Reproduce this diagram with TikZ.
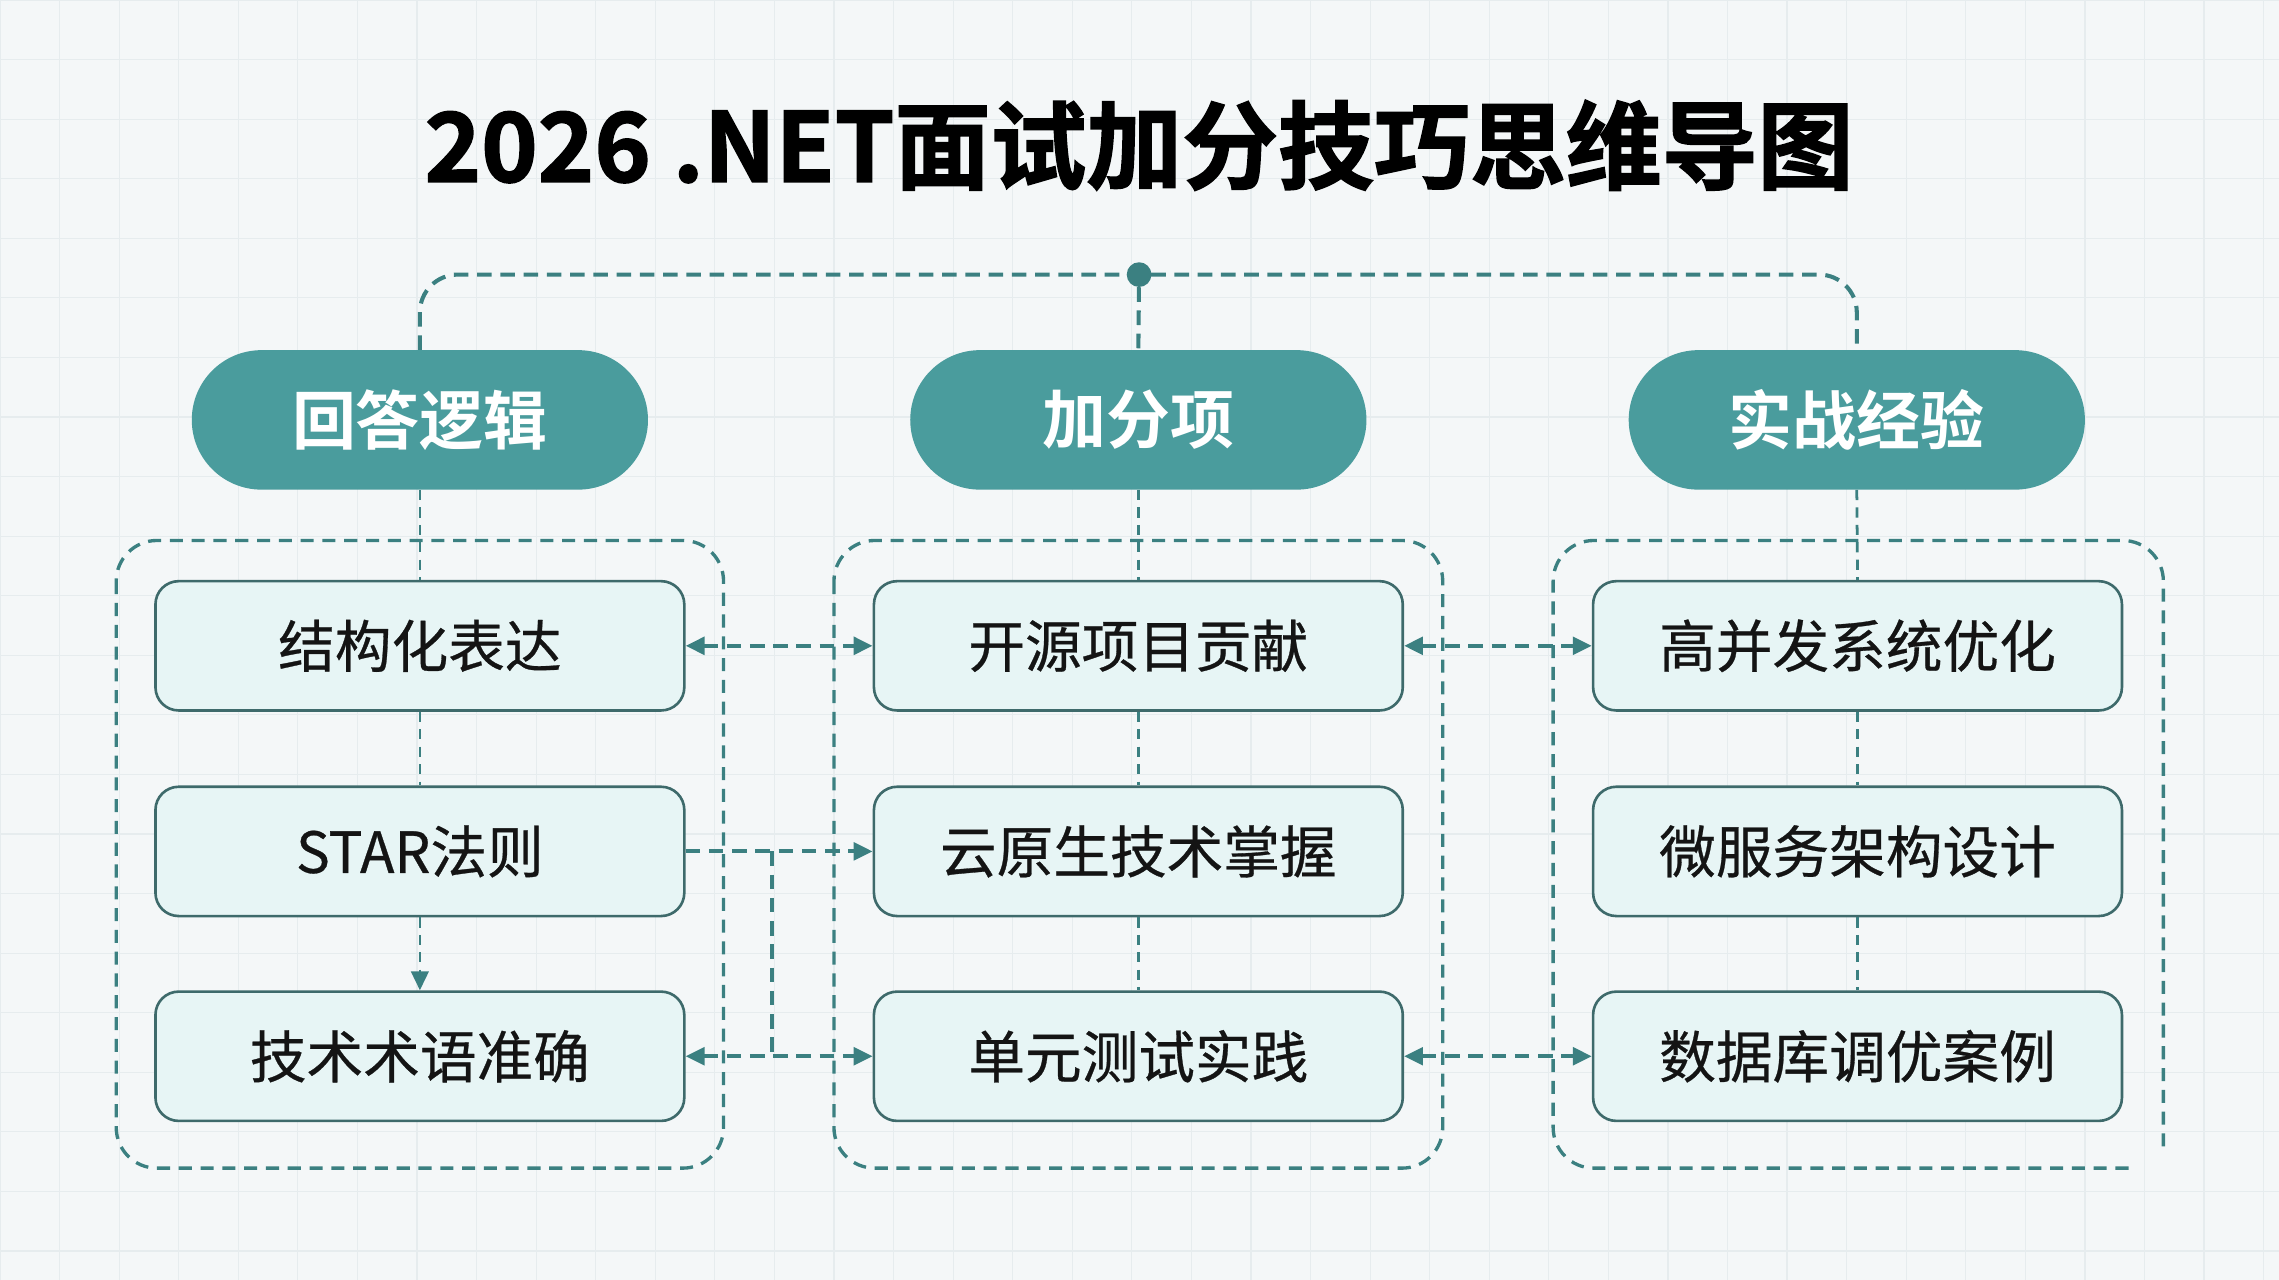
\documentclass[tikz,border=0pt]{standalone}
\usepackage{fontspec}
\setmainfont{Noto Sans CJK SC}[BoldFont=* Bold]
\newfontfamily\titlefont{Noto Sans CJK SC}[UprightFont=* Bold, FakeBold=1.6]
\newfontfamily\itemfont{Noto Sans CJK SC}[FakeBold=0.5]
\usetikzlibrary{arrows.meta,calc}
\definecolor{bgc}{HTML}{F4F7F8}
\definecolor{gridc}{HTML}{E6ECEE}
\definecolor{pillc}{HTML}{4A9C9D}
\definecolor{linec}{HTML}{3B8081}
\definecolor{boxfill}{HTML}{E7F5F5}
\definecolor{boxline}{HTML}{3E6A6B}
\definecolor{textc}{HTML}{141414}
\tikzset{
  pill/.style={fill=pillc, rounded corners=48pt, minimum width=314pt, minimum height=96pt,
    text=white, font=\fontsize{44}{44}\selectfont\bfseries, inner sep=0pt},
  item/.style={draw=boxline, line width=1.8pt, fill=boxfill, rounded corners=16pt,
    minimum width=364pt, minimum height=89pt, inner sep=0pt,
    font=\fontsize{39}{39}\itemfont, text=textc},
  conn/.style={draw=linec, line width=2.8pt, dash pattern=on 10pt off 6pt},
  vconn/.style={draw=linec, line width=1.9pt, dash pattern=on 7pt off 5pt},
  grp/.style={draw=linec, line width=2.3pt, dash pattern=on 9pt off 6pt, rounded corners=28pt},
  tip/.style={-{Triangle[length=13pt,width=12pt]}},
  both/.style={{Triangle[length=13pt,width=12pt]}-{Triangle[length=13pt,width=12pt]}},
  hubdot/.style={circle, fill=linec, minimum size=17pt, inner sep=0pt},
  gridline/.style={draw=gridc, line width=0.8pt}
}
\begin{document}
\begin{tikzpicture}[x=1pt,y=-1pt]
\useasboundingbox (0,0) rectangle (1568.6,881);
\fill[bgc] (0,0) rectangle (1568.6,881);
\foreach \i in {0,41,...,1568} \draw[gridline] (\i,0) -- (\i,881);
\foreach \j in {0,41,...,881} \draw[gridline] (0,\j) -- (1568.6,\j);

% title
\node[font=\fontsize{66}{66}\titlefont, text=black, inner sep=0pt] (title) at (784,100) {2026 .NET面试加分技巧思维导图};

% group frames
\draw[grp] (80,372) rectangle (498,804);
\draw[grp] (574,372) rectangle (993,804);
\draw[grp] (1465,804) -- (1069,804) -- (1069,372) -- (1489,372) -- (1489,792);

% pills
\node[pill] (p1) at (289,289) {回答逻辑};
\node[pill] (p2) at (783.5,289) {加分项};
\node[pill] (p3) at (1278,289) {实战经验};

% items
\node[item] (a1) at (289,444.5) {结构化表达};
\node[item] (a2) at (289,586) {STAR法则};
\node[item] (a3) at (289,727) {技术术语准确};
\node[item] (b1) at (783.5,444.5) {开源项目贡献};
\node[item] (b2) at (783.5,586) {云原生技术掌握};
\node[item] (b3) at (783.5,727) {单元测试实践};
\node[item] (c1) at (1278.5,444.5) {高并发系统优化};
\node[item] (c2) at (1278.5,586) {微服务架构设计};
\node[item] (c3) at (1278.5,727) {数据库调优案例};

% top connector
\node[hubdot] (hub) at (784,189) {};
\draw[conn, rounded corners=26pt] (p1.north) -- (p1.north |- hub) -- (p3.north |- hub) -- (p3.north);
\draw[conn] (hub) -- (p2.north);

% pill to first item
\draw[vconn] (p1.south) -- (a1.north);
\draw[vconn] (p2.south) -- (b1.north);
\draw[vconn] (p3.south) -- (c1.north);

% inside columns
\draw[vconn] (a1.south) -- (a2.north);
\draw[vconn, tip] (a2.south) -- (a3.north);
\draw[vconn] (b1.south) -- (b2.north);
\draw[vconn] (b2.south) -- (b3.north);
\draw[vconn] (c1.south) -- (c2.north);
\draw[vconn] (c2.south) -- (c3.north);

% horizontal links
\draw[conn, both] (a1.east) -- (b1.west);
\draw[conn, both] (b1.east) -- (c1.west);
\draw[conn, tip] (a2.east) -- (b2.west);
\coordinate (j) at ($(a2.east)!0.46!(b2.west)$);
\draw[conn] (j) -- (j |- a3.east);
\draw[conn, both] (a3.east) -- (b3.west);
\draw[conn, both] (b3.east) -- (c3.west);
\end{tikzpicture}
\end{document}
